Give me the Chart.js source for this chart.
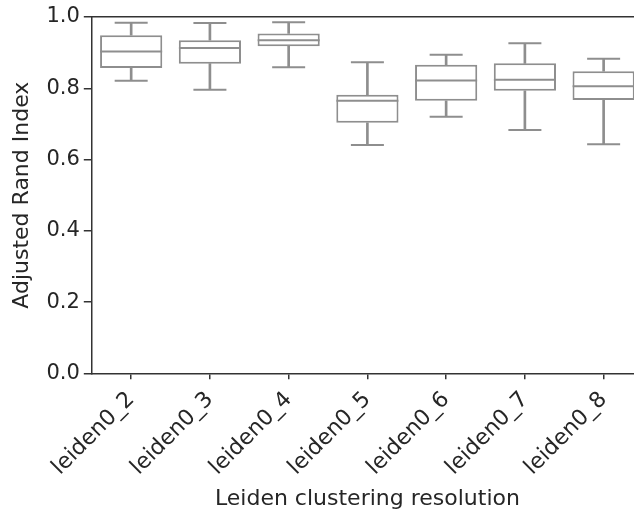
<!DOCTYPE html>
<html>
<head>
<meta charset="utf-8">
<script src="https://cdn.jsdelivr.net/npm/chart.js@4/dist/chart.umd.min.js"></script>
<style>
  html, body { margin: 0; padding: 0; background: #fff; overflow: hidden; }
  canvas { display: block; margin-top: -16px; }
</style>
</head>
<body>
<canvas id="chart" width="676" height="526"></canvas>
<script>
const categories = ["leiden0_2", "leiden0_3", "leiden0_4", "leiden0_5", "leiden0_6", "leiden0_7", "leiden0_8"];
const whiskerLow = [0.821, 0.796, 0.859, 0.641, 0.720, 0.683, 0.643];
const q1 = [0.857, 0.869, 0.918, 0.703, 0.765, 0.793, 0.767];
const median = [0.903, 0.913, 0.935, 0.765, 0.822, 0.824, 0.806];
const q3 = [0.949, 0.935, 0.954, 0.782, 0.866, 0.870, 0.848];
const whiskerHigh = [0.984, 0.983, 0.985, 0.873, 0.894, 0.926, 0.883];
const yTicks = [0, 0.2, 0.4, 0.6, 0.8, 1.0];

const gray = "#8e8e8e";
const axisColor = "#333333";
const textColor = "#262626";
const font = "'DejaVu Sans', sans-serif";

const ctx = document.getElementById("chart").getContext("2d");
new Chart(ctx, {
  type: "bar",
  data: {
    labels: categories,
    datasets: [
      {
        // boxes
        label: "box",
        data: categories.map((c, i) => [q1[i], q3[i]]),
        backgroundColor: "#ffffff",
        borderColor: gray,
        borderWidth: 2,
        borderSkipped: false,
        barPercentage: 0.79,
        categoryPercentage: 1,
        grouped: false,
        order: 1,
      },
      {
        label: "lowStem",
        data: categories.map((c, i) => [whiskerLow[i], q1[i]]),
        backgroundColor: gray,
        borderWidth: 0,
        barThickness: 2,
        grouped: false,
        order: 2,
      },
      {
        label: "highStem",
        data: categories.map((c, i) => [q3[i], whiskerHigh[i]]),
        backgroundColor: gray,
        borderWidth: 0,
        barThickness: 2,
        grouped: false,
        order: 2,
      },
      {
        type: "line",
        label: "lowCap",
        data: whiskerLow,
        showLine: false,
        pointStyle: "line",
        pointRadius: 16.5,
        pointBorderWidth: 2,
        pointBorderColor: gray,
        order: 0,
      },
      {
        type: "line",
        label: "highCap",
        data: whiskerHigh,
        showLine: false,
        pointStyle: "line",
        pointRadius: 16.5,
        pointBorderWidth: 2,
        pointBorderColor: gray,
        order: 0,
      },
      {
        type: "line",
        label: "median",
        data: median,
        showLine: false,
        pointStyle: "line",
        pointRadius: 31,
        pointBorderWidth: 2,
        pointBorderColor: gray,
        order: 0,
      },
    ],
  },
  options: {
    responsive: false,
    animation: false,
    events: [],
    layout: { padding: { top: 0, right: 9, bottom: 0, left: 9 } },
    plugins: { legend: { display: false }, tooltip: { enabled: false } },
    scales: {
      x: {
        type: "category",
        offset: true,
        grid: { display: true, drawOnChartArea: false, offset: false, tickLength: 6, color: axisColor, lineWidth: 1.5 },
        border: { color: axisColor, width: 1.5 },
        ticks: {
          minRotation: 45,
          maxRotation: 45,
          autoSkip: false,
          color: textColor,
          font: { family: font, size: 22, lineHeight: 1.0 },
          padding: 9,
        },
        title: {
          display: true,
          text: "Leiden clustering resolution",
          color: textColor,
          font: { family: font, size: 22, lineHeight: 1.0 },
          padding: { top: 0, bottom: 0 },
        },
      },
      xTop: {
        type: "category",
        position: "top",
        offset: true,
        grid: { display: false, drawTicks: false },
        border: { color: axisColor, width: 1.5 },
        ticks: { display: false },
      },
      y: {
        min: 0,
        max: 1,
        afterBuildTicks: (scale) => {
          scale.ticks = yTicks.map((v) => ({ value: v }));
        },
        grid: { display: true, drawOnChartArea: false, tickLength: 8, color: axisColor, lineWidth: 1.5 },
        border: { color: axisColor, width: 1.5 },
        ticks: {
          color: textColor,
          font: { family: font, size: 21 },
          padding: 4,
          callback: (v) => Number(v).toFixed(1),
        },
        title: {
          display: true,
          text: "Adjusted Rand Index",
          color: textColor,
          font: { family: font, size: 22 },
          padding: { top: 0, bottom: 7 },
        },
      },
    },
  },
});
</script>
</body>
</html>
